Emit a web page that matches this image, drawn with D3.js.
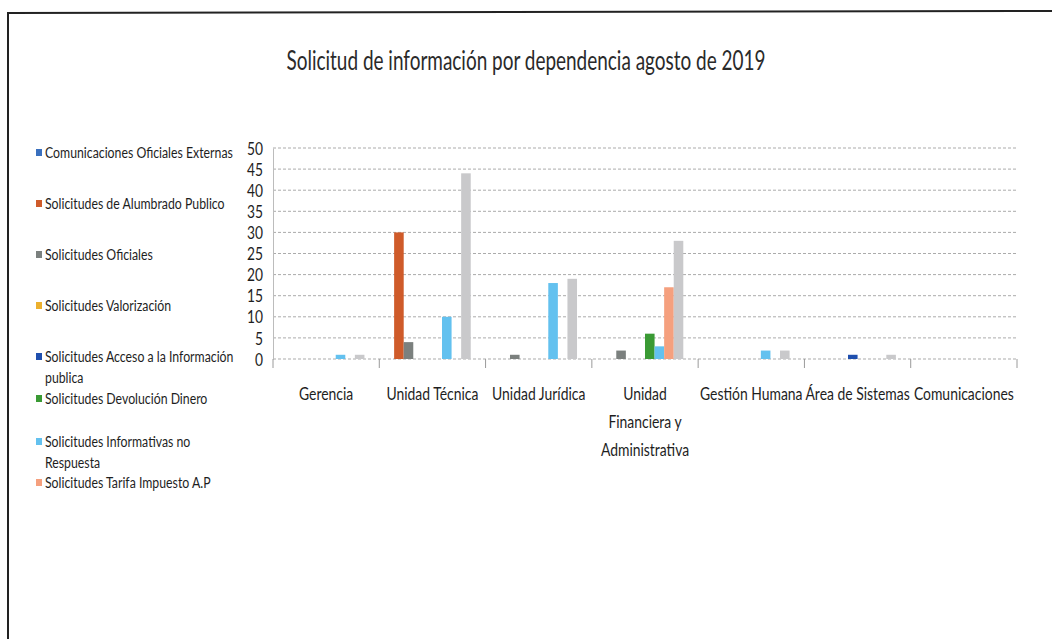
<!DOCTYPE html>
<html>
<head>
<meta charset="utf-8">
<script src="https://cdn.jsdelivr.net/npm/d3@7"></script>
<style>
  body { margin: 0; background: #fff; }
  #chart text { font-family: Lato, "Open Sans", sans-serif; fill: #1e1e1e; }
</style>
</head>
<body>
<div id="chart"></div>
<script>
// categories (dependencias)
const categories = ["Gerencia", "Unidad Técnica", "Unidad Jurídica", "Unidad Financiera y Administrativa",
  "Gestión Humana", "Área de Sistemas", "Comunicaciones"];
// how Excel wrapped the tick labels
const categoryLines = [["Gerencia"], ["Unidad Técnica"], ["Unidad Jurídica"], ["Unidad", "Financiera y", "Administrativa"],
  ["Gestión Humana"], ["Área de Sistemas"], ["Comunicaciones"]];

const seriesNames = [
  "Comunicaciones Oficiales Externas",
  "Solicitudes de Alumbrado Publico",
  "Solicitudes Oficiales",
  " Solicitudes Valorización",
  "Solicitudes  Acceso a la Información|publica",
  "Solicitudes Devolución Dinero",
  "Solicitudes Informativas no|Respuesta",
  " Solicitudes Tarifa Impuesto A.P",
  "Total",
  "Otras"
];

// one array per series, in category order
const comunicacionesExternas = [0, 0, 0, 0, 0, 0, 0];
const alumbradoPublico = [0, 30, 0, 0, 0, 0, 0];
const oficiales = [0, 4, 1, 2, 0, 0, 0];
const valorizacion = [0, 0, 0, 0, 0, 0, 0];
const accesoInformacion = [0, 0, 0, 0, 0, 1, 0];
const devolucionDinero = [0, 0, 0, 6, 0, 0, 0];
const informativasNoRespuesta = [1, 10, 18, 3, 2, 0, 0];
const tarifaImpuesto = [0, 0, 0, 17, 0, 0, 0];
const total = [1, 44, 19, 28, 2, 1, 0];
const otras = [0, 0, 0, 0, 0, 0, 0];

const yTicks = [0, 5, 10, 15, 20, 25, 30, 35, 40, 45, 50];

const seriesValues = [comunicacionesExternas, alumbradoPublico, oficiales, valorizacion, accesoInformacion,
  devolucionDinero, informativasNoRespuesta, tarifaImpuesto, total, otras];

const colors = ["#3a70be", "#cf5b2a", "#7b807e", "#ecb02e", "#1f4fae", "#3a9a34", "#63c1ef", "#f5a07e", "#c9c9cb", "#8fa8d8"];

// The scan is a narrow Calibri; squeeze a normal font horizontally so a
// sample string comes out at the width measured on the picture.
function squish (svg, sel, fontSize, sample, targetW) {
  let probe = svg.append('text').style('font-size', fontSize).text(sample);
  let s = targetW / probe.node().getComputedTextLength();
  probe.remove();

  sel.each(function () {
    let t = d3.select(this);
    t.attr('x', (+t.attr('x') || 0) / s).attr('transform', `scale(${s},1)`);
    t.selectAll('tspan').each(function () {
      let ts = d3.select(this);
      if (ts.attr('x') !== null) ts.attr('x', +ts.attr('x') / s);
    });
  });
}

class GroupedBars {
  constructor (el) {
    this.w = 1052;
    this.h = 639;
    this.el = el;
    // plot area
    this.left = 273;
    this.right = 1017;
    this.top = 148;
    this.bottom = 359;
  }

  render () {
    this.svg = d3.select('#' + this.el)
      .append('svg')
      .attr('width', this.w)
      .attr('height', this.h);

    this.computeScaleFns();
    this.addFrame();
    this.addGrid();
    this.addBars();
    this.addAxes();
    this.addLegend();
  }

  computeScaleFns () {
    this.x0 = d3.scaleBand()
      .domain(categories)
      .range([this.left, this.right])
      .padding(0);

    this.x1 = d3.scaleBand()
      .domain(d3.range(seriesNames.length))
      .range([0, this.x0.bandwidth()])
      .paddingInner(0)
      .paddingOuter(0.55);

    this.y = d3.scaleLinear()
      .domain([0, 50])
      .range([this.bottom, this.top]);
  }

  addFrame () {
    // scanned page border
    this.svg.append('path')
      .attr('d', 'M8,639 L8,13 L1052,11')
      .attr('fill', 'none')
      .attr('stroke', '#222')
      .attr('stroke-width', 2);

    this.svg.append('text')
      .attr('x', 526)
      .attr('y', 70)
      .attr('text-anchor', 'middle')
      .attr('textLength', 479)
      .attr('lengthAdjust', 'spacingAndGlyphs')
      .style('font-size', '27px')
      .style('fill', '#2a2a2a')
      .text('Solicitud de información por dependencia agosto de 2019');
  }

  addGrid () {
    this.svg.append('g')
      .selectAll('line')
      .data(yTicks)
      .join('line')
      .attr('x1', this.left)
      .attr('x2', this.right)
      .attr('y1', d => this.y(d))
      .attr('y2', d => this.y(d))
      .attr('stroke', '#ababab')
      .attr('stroke-dasharray', '3,2');
  }

  addBars () {
    let groups = this.svg.append('g')
      .selectAll('g')
      .data(categories)
      .join('g')
      .attr('transform', d => `translate(${this.x0(d)},0)`);

    groups.selectAll('rect')
      .data((d, ci) => seriesValues.map((vals, si) => ({ si: si, v: vals[ci] })))
      .join('rect')
      .filter(d => d.v > 0)
      .attr('x', d => this.x1(d.si))
      .attr('y', d => this.y(d.v))
      .attr('width', this.x1.bandwidth())
      .attr('height', d => this.y(0) - this.y(d.v))
      .attr('fill', d => colors[d.si]);
  }

  addAxes () {
    let yAxis = this.svg.append('g')
      .attr('transform', `translate(${this.left},0)`)
      .call(d3.axisLeft(this.y).tickValues(yTicks).tickSize(0).tickPadding(10));
    yAxis.select('.domain').attr('stroke', '#bcbcbc');
    yAxis.selectAll('text').style('font-size', '17px').style('fill', '#1e1e1e').attr('dy', '0.36em');
    squish(this.svg, yAxis.selectAll('text'), '17px', '50', 16);

    // category boundary ticks
    this.svg.append('g')
      .selectAll('line')
      .data(categories.map(c => this.x0(c)).concat([this.right]))
      .join('line')
      .attr('x1', d => d)
      .attr('x2', d => d)
      .attr('y1', this.bottom)
      .attr('y2', this.bottom + 9)
      .attr('stroke', '#9a9a9a');

    let labels = this.svg.append('g')
      .selectAll('text')
      .data(categories)
      .join('text')
      .attr('x', d => this.x0(d) + this.x0.bandwidth() / 2)
      .attr('y', 400)
      .attr('text-anchor', 'middle')
      .style('font-size', '18px');

    labels.selectAll('tspan')
      .data((d, i) => categoryLines[i])
      .join('tspan')
      .attr('x', function () { return this.parentNode.getAttribute('x'); })
      .attr('dy', (d, i) => i === 0 ? 0 : 28)
      .text(d => d);

    squish(this.svg, labels, '18px', 'Unidad Técnica', 92);
  }

  addLegend () {
    // Excel squeezed the legend; only the first 8 entries fit
    const legendY = [153, 204, 255, 306, 357, 399, 442, 483];
    let items = this.svg.append('g')
      .selectAll('g')
      .data(seriesNames.slice(0, legendY.length))
      .join('g')
      .attr('transform', (d, i) => `translate(36,${legendY[i]})`);

    items.append('rect')
      .attr('x', 0)
      .attr('y', -4)
      .attr('width', 6)
      .attr('height', 7)
      .attr('fill', (d, i) => colors[i]);

    let texts = items.append('text')
      .attr('x', 9)
      .attr('y', 5)
      .style('font-size', '15px');

    texts.selectAll('tspan')
      .data(d => d.split('|'))
      .join('tspan')
      .attr('x', 9)
      .attr('dy', (d, i) => i === 0 ? 0 : 21)
      .text(d => d);

    squish(this.svg, texts, '15px', 'Comunicaciones Oficiales Externas', 188);
  }
}

new GroupedBars('chart').render();
</script>
</body>
</html>
